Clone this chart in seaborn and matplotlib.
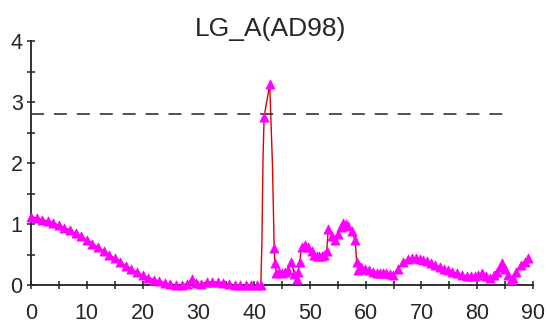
import numpy as np
import pandas as pd
import seaborn as sns
import matplotlib.pyplot as plt
from matplotlib.ticker import MultipleLocator

# LOD profile along the linkage group (cM, LOD)
pos = [0, 1, 2, 3, 4, 5, 6, 7, 8, 9, 10, 11, 12, 13, 14, 15, 16, 17, 18, 19,
       20, 21, 22, 23, 24, 25, 26, 27, 28, 28.8, 29.5, 30.5, 31.5, 32.5, 33.5,
       34.5, 35.5, 36.5, 37.5, 38.5, 39.5, 40.5, 41.2, 41.4, 41.6, 41.8, 42.3,
       42.8, 43.3, 43.5, 43.6, 43.7, 44.0, 44.5, 45.0, 45.5, 46.1, 46.7, 47.2,
       47.6, 47.9, 48.2, 48.5, 49.1, 49.7, 50.3, 50.8, 51.2, 51.7, 52.1, 52.6,
       53.0, 53.3, 53.9, 54.5, 55.1, 55.6, 56.0, 56.5, 56.9, 57.5, 58.1, 58.4,
       58.7, 59.2, 59.9, 60.6, 61.3, 62.0, 62.5, 63.1, 63.7, 64.3, 64.9, 65.8,
       66.7, 67.6, 68.3, 69.1, 69.7, 70.3, 71.0, 71.8, 72.5, 73.3, 74.0, 74.8,
       75.5, 76.3, 77.2, 78.1, 78.8, 79.6, 80.2, 80.8, 81.5, 82.3, 83.0, 83.5,
       84.0, 84.4, 85.0, 85.6, 86.1, 86.5, 87.0, 87.9, 88.5, 89.1]
lod = [1.12, 1.10, 1.07, 1.05, 1.02, 0.98, 0.94, 0.90, 0.85, 0.80, 0.74, 0.68,
       0.62, 0.56, 0.50, 0.44, 0.38, 0.31, 0.26, 0.21, 0.16, 0.12, 0.09, 0.06,
       0.04, 0.01, 0.0, 0.0, 0.02, 0.10, 0.03, 0.02, 0.05, 0.05, 0.05, 0.04,
       0.02, 0.0, 0.0, 0.0, 0.0, 0.0, 0.0, 0.70, 2.10, 2.76, 3.03, 3.29, 1.94,
       1.02, 0.60, 0.36, 0.20, 0.22, 0.20, 0.22, 0.25, 0.38, 0.18, 0.10, 0.22,
       0.38, 0.63, 0.66, 0.62, 0.55, 0.50, 0.47, 0.47, 0.48, 0.50, 0.55, 0.91,
       0.80, 0.74, 0.84, 0.95, 1.02, 1.00, 0.96, 0.88, 0.74, 0.38, 0.25, 0.30,
       0.27, 0.24, 0.22, 0.20, 0.19, 0.19, 0.19, 0.18, 0.16, 0.27, 0.38, 0.43,
       0.44, 0.44, 0.43, 0.41, 0.39, 0.36, 0.33, 0.30, 0.27, 0.25, 0.22, 0.19,
       0.16, 0.14, 0.14, 0.14, 0.16, 0.19, 0.15, 0.11, 0.16, 0.22, 0.30, 0.36,
       0.27, 0.16, 0.08, 0.12, 0.22, 0.33, 0.38, 0.44]
# positions on the curve that have no marker drawn
no_marker = [41.4, 41.6, 42.3, 43.3, 43.5]

threshold = 2.8
threshold_span = [0, 86]
title = "LG_A(AD98)"

df = pd.DataFrame({"pos": pos, "lod": lod})
marks = df[~df["pos"].isin(no_marker)]

sns.set_style("ticks")
plt.rcParams["font.family"] = ["Liberation Sans", "DejaVu Sans"]

fig = plt.figure(figsize=(5.5, 3.26), dpi=100)
ax = fig.add_axes([31 / 550, 1 - 285 / 326, 502 / 550, 244 / 326])

sns.lineplot(data=df, x="pos", y="lod", ax=ax, color="#e00000", lw=1.0,
             sort=False, clip_on=False)
sns.scatterplot(data=marks, x="pos", y="lod", ax=ax, marker="^", s=44,
                color="#ff00ff", edgecolor="#ff00ff", linewidth=0.5,
                clip_on=False, zorder=3)
ax.plot(threshold_span, [threshold, threshold], color="#222222", lw=1.1,
        dashes=(8.5, 6.5))

ax.set_xlim(0, 90)
ax.set_ylim(0, 4)
ax.xaxis.set_major_locator(MultipleLocator(10))
ax.xaxis.set_minor_locator(MultipleLocator(5))
ax.yaxis.set_major_locator(MultipleLocator(1))
ax.yaxis.set_minor_locator(MultipleLocator(0.5))
ax.tick_params(which="both", direction="inout", length=6, width=1.1,
               color="#222222", labelsize=15.5)
ax.tick_params(axis="x", pad=10)
ax.tick_params(axis="y", pad=3)
ax.set_xlabel("")
ax.set_ylabel("")
for s in ["top", "right"]:
    ax.spines[s].set_visible(False)
for s in ["left", "bottom"]:
    ax.spines[s].set_linewidth(1.3)
    ax.spines[s].set_color("#222222")

fig.text(271 / 550, 1 - 36 / 326, title, ha="center", va="baseline",
         fontsize=19)

fig.savefig("out.png", dpi=100)
